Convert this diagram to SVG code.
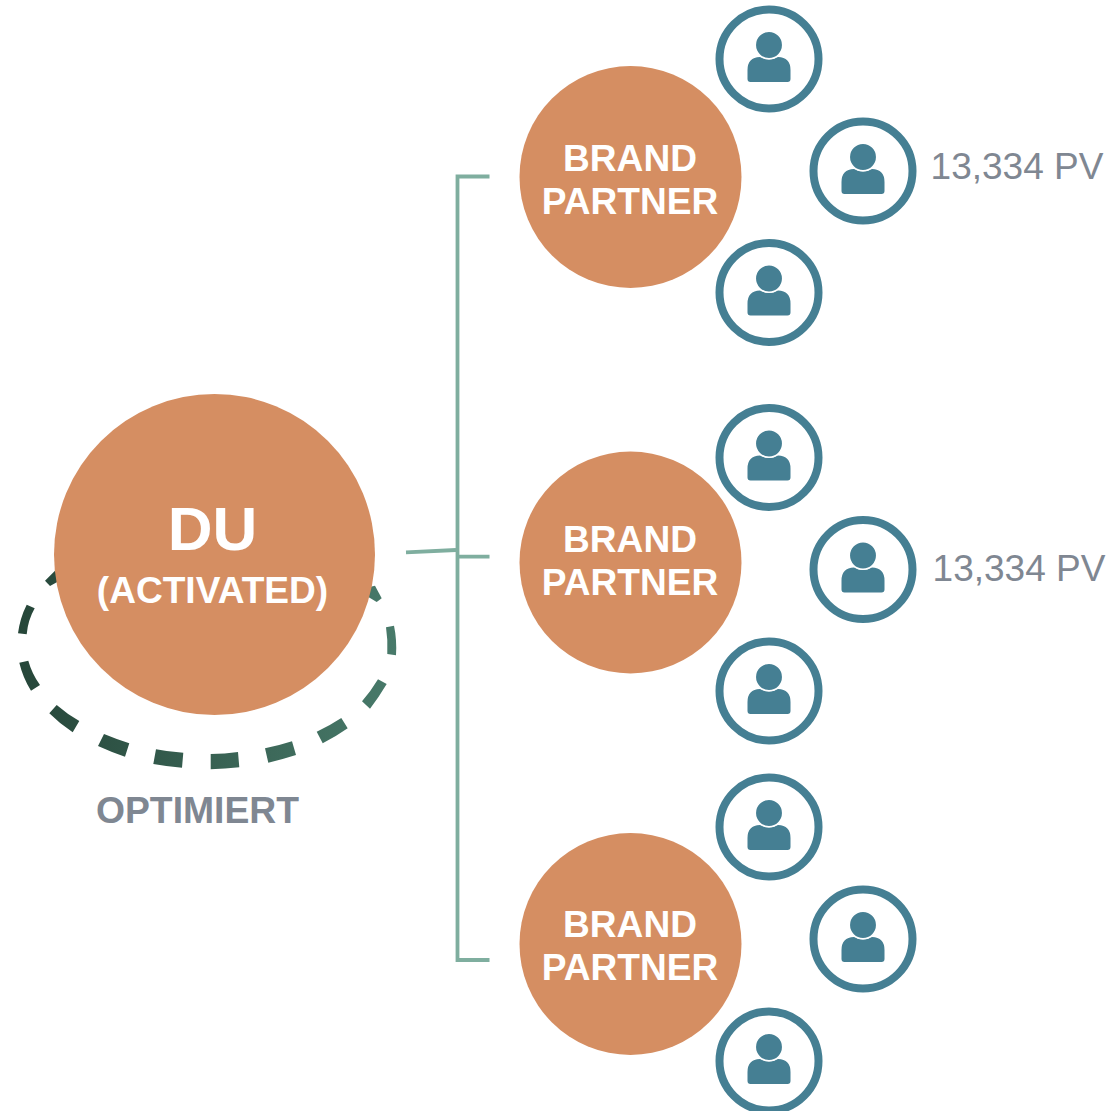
<svg xmlns="http://www.w3.org/2000/svg" xmlns:xlink="http://www.w3.org/1999/xlink" width="1110" height="1111" viewBox="0 0 1110 1111">
<style>
.big{fill:#D58E62}
.ring{fill:#fff;stroke:#457F93;stroke-width:8}
.pb{fill:#457F93}
.ph{fill:#457F93;stroke:#fff;stroke-width:1.5}
text{font-family:"Liberation Sans",Arial,sans-serif;text-anchor:middle}
.w{fill:#fff;font-weight:700;font-size:37.1px}
.g{fill:#7F8792}
.c{fill:none;stroke:#7FAE9F;stroke-width:3.8}
</style>
<defs>
<linearGradient id="dash" gradientUnits="userSpaceOnUse" x1="18" y1="0" x2="396" y2="0"><stop offset="0" stop-color="#264639"/><stop offset="1" stop-color="#487A6A"/></linearGradient>
<g id="person">
<path class="pb" d="M-21.500 19V11Q-21.500 -1.500 -9 -2Q0 3 9 -2Q21.500 -1.500 21.500 11V20Q21.500 23 18.500 23H-18.500Q-21.500 23 -21.500 20Z"/>
<circle class="ph" cy="-14" r="13.700"/>
</g>
</defs>
<rect width="1110" height="1111" fill="#fff"/>
<g id="optimiert-ring" fill="url(#dash)">
<path d="M45 580.700L55 570.700L70 575L50 586Z"/>
<path d="M26.700 604.700Q20 618 18 633.300L26.700 634.300Q28 620 34.700 608.300Z"/>
<path d="M19.300 662.700L28.300 660.700Q32 674 40 685L31 690.700Q23 678 19.300 662.700Z"/>
<path d="M56.700 705Q67 714 79.300 721L72.700 732.300Q60 724 49.300 713.300Z"/>
<path d="M104 734Q116 739 129.300 743.300L125 756.700Q111 752 98 746Z"/>
<path d="M156 749.300Q169 752 183.300 752.700L182 767.700Q167 766.500 153.300 764Z"/>
<path d="M210.700 754Q225 754 238 752L239.300 767.300Q225 769 210.700 769.300Z"/>
<path d="M265 748.300Q279 745.500 292 741.300L296 755Q282 759.500 268.300 762.700Z"/>
<path d="M316.700 731.700Q330 725.500 341.300 718L347.700 728.300Q336 736.500 322.700 743.300Z"/>
<path d="M378 679.300L386.700 684Q379 697 370 708.700L362 701.300Q371 691 378 679.300Z"/>
<path d="M386 627.300L394 625.700Q397 640 396 655.300L387.300 654Q388 640 386 627.300Z"/>
<path d="M365 588L375 585.700L381.700 598.300L376.700 602L365 595Z"/>
</g>
<g id="connectors">
<path class="c" d="M489.500 176.500H457.500V960H489.500"/>
<path class="c" d="M457.500 556.700H489.500"/>
<path class="c" d="M406 552.300L456 550"/>
</g>
<g id="du"><circle class="big" cx="214.500" cy="554.500" r="160.500"/>
<text x="212.500" y="550" fill="#fff" font-weight="700" font-size="62">DU</text>
<text x="212.500" y="603" class="w">(ACTIVATED)</text></g>
<g id="optimiert-label"><text x="197.500" y="823" class="g" font-weight="700" font-size="37.300">OPTIMIERT</text></g>
<g id="bp1"><circle class="big" cx="630.500" cy="177" r="111"/><text x="630" y="171" class="w">BRAND</text><text x="630" y="214" class="w">PARTNER</text></g>
<g id="bp2"><circle class="big" cx="630.500" cy="562.500" r="111"/><text x="630" y="552" class="w">BRAND</text><text x="630" y="595" class="w">PARTNER</text></g>
<g id="bp3"><circle class="big" cx="630.500" cy="944" r="111"/><text x="630" y="937" class="w">BRAND</text><text x="630" y="980" class="w">PARTNER</text></g>
<g id="u1"><circle class="ring" cx="769" cy="59" r="49.500"/><use href="#person" x="769" y="59"/></g>
<g id="u2"><circle class="ring" cx="863" cy="171" r="49.500"/><use href="#person" x="863" y="171"/></g>
<g id="u3"><circle class="ring" cx="769" cy="292.500" r="49.500"/><use href="#person" x="769" y="292.500"/></g>
<g id="u4"><circle class="ring" cx="769" cy="457.500" r="49.500"/><use href="#person" x="769" y="457.500"/></g>
<g id="u5"><circle class="ring" cx="863" cy="569.500" r="49.500"/><use href="#person" x="863" y="569.500"/></g>
<g id="u6"><circle class="ring" cx="769" cy="691" r="49.500"/><use href="#person" x="769" y="691"/></g>
<g id="u7"><circle class="ring" cx="769" cy="827" r="49.500"/><use href="#person" x="769" y="827"/></g>
<g id="u8"><circle class="ring" cx="863" cy="939" r="49.500"/><use href="#person" x="863" y="939"/></g>
<g id="u9"><circle class="ring" cx="769" cy="1061" r="49.500"/><use href="#person" x="769" y="1061"/></g>
<g id="pv1"><text x="1017" y="179" class="g" font-size="37">13,334 PV</text></g>
<g id="pv2"><text x="1019" y="581" class="g" font-size="37">13,334 PV</text></g>
</svg>
